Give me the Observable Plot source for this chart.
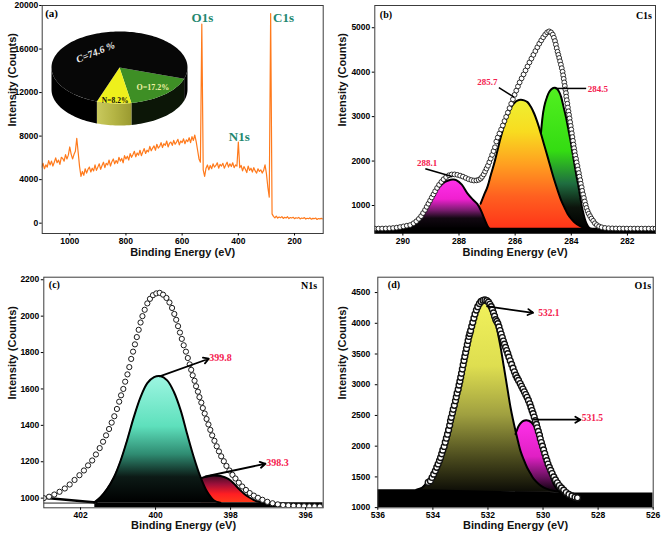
<!DOCTYPE html>
<html><head><meta charset="utf-8">
<script src="https://cdn.jsdelivr.net/npm/d3@7"></script>
<script src="https://cdn.jsdelivr.net/npm/@observablehq/plot@0.6"></script>
<style>
body{margin:0;background:#fff;}
#root{position:relative;width:661px;height:538px;overflow:hidden;background:#fff}
.pnl{position:absolute}
</style></head><body><div id="root"></div>
<script>
// ---------------- DATA ----------------
// (a) survey spectrum: counts every 5 eV from 1100 eV down to 100 eV
const surveyStartEV = 1100, surveyStepEV = 5;
const surveyCounts = [
5150,5500,5000,5350,5150,5750,5350,5700,5250,5600,6000,5550,5800,5400,6050,5950,5700,6300,5900,6250,
7000,6350,5900,6300,6600,7800,6500,5200,4300,4750,4400,5000,4600,4950,5150,4700,5050,4800,5350,4850,
5150,5450,4950,5300,5600,5100,5500,5350,5800,5250,5650,5900,5450,5750,5500,6050,5700,5950,5550,6200,
5900,6150,5800,6400,6050,6300,6600,6100,6450,6250,6700,6200,6550,6850,6400,6700,6550,7050,6650,6900,
7100,6700,7250,6900,7050,7400,6950,7300,7150,7550,7000,7350,7450,7150,7600,7250,7450,7700,7200,7550,
7400,7750,7300,7650,7500,7850,7400,7950,7600,8100,7500,6700,5900,5600,18300,4900,4300,5050,5350,4900,
5300,5000,5450,5150,5300,5550,5050,5400,5250,5500,5050,5350,5600,5150,5450,5200,5550,5100,5350,5250,
7450,5100,5300,4800,5200,4950,4650,5250,4850,5050,4700,5100,4800,4600,5000,4750,4900,4600,4850,5350,
4550,3300,2400,19250,850,620,480,640,460,570,500,600,430,540,480,590,420,520,470,540,
410,500,450,530,390,470,430,510,380,450,410,490,360,440,410,470,340,430,390,440,400];
const surveyPeakNames = ["O1s", "N1s", "C1s"];
const surveyPeakEV = [528, 396.6, 239];
const surveyPeakCounts = [18900, 7970, 18900];

// (a) inset: elemental composition (%)
const pieNames = ["O", "N", "C"];
const piePercents = [17.2, 8.2, 74.6];
const pieTexts = ["O=17.2%", "N=8.2%", "C=74.6 %"];

// (b) C1s: envelope (eV, counts) and fitted components
const c1sEnvelope = [[291.00,480],[290.87,480],[290.74,481],[290.61,483],[290.48,487],[290.35,493],[290.22,502],[290.10,515],[289.98,530],[289.86,545],[289.74,560],[289.62,600],[289.52,645],[289.43,700],[289.35,760],[289.28,830],[289.21,900],[289.15,970],[289.09,1040],[289.03,1110],[288.97,1180],[288.91,1250],[288.85,1320],[288.78,1395],[288.71,1465],[288.63,1530],[288.55,1590],[288.46,1640],[288.36,1680],[288.26,1698],[288.16,1700],[288.06,1690],[287.96,1672],[287.86,1650],[287.76,1620],[287.66,1592],[287.56,1572],[287.47,1562],[287.38,1565],[287.30,1578],[287.23,1605],[287.18,1645],[287.12,1700],[287.07,1765],[287.02,1830],[286.97,1895],[286.92,1975],[286.87,2055],[286.82,2140],[286.77,2225],[286.72,2310],[286.67,2440],[286.62,2530],[286.56,2620],[286.50,2710],[286.44,2800],[286.38,2900],[286.32,2995],[286.26,3090],[286.20,3190],[286.14,3290],[286.08,3390],[286.02,3490],[285.96,3585],[285.90,3680],[285.84,3770],[285.77,3860],[285.70,3950],[285.63,4040],[285.56,4130],[285.49,4220],[285.42,4305],[285.35,4390],[285.28,4475],[285.21,4560],[285.14,4640],[285.07,4715],[285.00,4785],[284.93,4845],[284.86,4895],[284.79,4918],[284.72,4895],[284.66,4845],[284.62,4775],[284.58,4700],[284.55,4620],[284.52,4540],[284.49,4460],[284.46,4390],[284.43,4320],[284.40,4245],[284.37,4170],[284.34,4090],[284.31,4010],[284.29,3930],[284.27,3850],[284.25,3770],[284.23,3690],[284.21,3610],[284.19,3530],[284.18,3450],[284.16,3370],[284.14,3290],[284.12,3205],[284.10,3120],[284.08,3040],[284.06,2960],[284.04,2875],[284.02,2790],[284.00,2710],[283.98,2625],[283.96,2540],[283.94,2455],[283.92,2370],[283.90,2290],[283.88,2210],[283.86,2130],[283.83,2050],[283.81,1970],[283.78,1890],[283.76,1810],[283.73,1730],[283.71,1650],[283.68,1570],[283.66,1490],[283.63,1410],[283.61,1330],[283.58,1250],[283.55,1170],[283.52,1090],[283.49,1015],[283.46,945],[283.42,875],[283.38,815],[283.33,760],[283.28,705],[283.22,655],[283.16,600],[283.09,560],[283.01,530],[282.92,510],[282.80,495],[282.67,488],[282.54,485],[282.41,483],[282.28,482],[282.15,481],[282.02,480],[281.89,480],[281.76,480],[281.63,480],[281.50,480],[281.37,480],[281.24,480],[281.11,480],[281.00,480]];
const c1sPeak2881 = [[290.5,455],[290.2,470],[289.9,510],[289.7,575],[289.5,680],[289.3,840],[289.1,1040],[288.9,1250],[288.7,1420],[288.5,1530],[288.3,1580],[288.2,1585],[288.1,1572],[287.9,1470],[287.7,1275],[287.5,1130],[287.35,1035],[287.22,890],[287.12,740],[287.03,600],[286.93,490],[286.85,470]];
const c1sPeak2857 = [[287.7,490],[287.5,640],[287.35,860],[287.23,1040],[287.1,1250],[286.99,1413],[286.87,1680],[286.75,1938],[286.63,2240],[286.51,2539],[286.39,2800],[286.27,3026],[286.15,3200],[286.03,3304],[285.92,3360],[285.8,3379],[285.68,3365],[285.56,3326],[285.44,3220],[285.32,3064],[285.2,2860],[285.08,2614],[284.96,2350],[284.84,2088],[284.72,1820],[284.6,1563],[284.48,1330],[284.36,1113],[284.24,950],[284.13,812],[284.0,700],[283.89,625],[283.7,540],[283.53,490],[283.4,470]];
const c1sPeak2845 = [[285.08,2640],[285.04,2900],[285.0,3100],[284.94,3290],[284.87,3430],[284.8,3540],[284.72,3610],[284.64,3645],[284.58,3650],[284.5,3620],[284.42,3540],[284.36,3439],[284.28,3230],[284.19,2989],[284.11,2730],[284.03,2464],[283.96,2200],[283.89,1938],[283.82,1680],[283.74,1413],[283.68,1180],[283.62,962],[283.56,800],[283.5,662],[283.43,560],[283.35,490],[283.25,470]];
const c1sPeakLabels = ["288.1", "285.7", "284.5"];

// (c) N1s
const n1sEnvelope = [[402.98,1000],[402.84,1008],[402.70,1020],[402.56,1035],[402.42,1053],[402.29,1075],[402.16,1100],[402.03,1126],[401.91,1152],[401.80,1180],[401.69,1207],[401.59,1240],[401.49,1275],[401.40,1310],[401.32,1345],[401.24,1380],[401.17,1415],[401.10,1450],[401.03,1490],[400.97,1530],[400.92,1565],[400.86,1600],[400.81,1640],[400.75,1680],[400.70,1720],[400.65,1765],[400.60,1805],[400.55,1845],[400.50,1885],[400.45,1925],[400.40,1965],[400.35,2000],[400.29,2035],[400.22,2070],[400.15,2095],[400.07,2115],[399.98,2125],[399.89,2128],[399.80,2118],[399.71,2100],[399.63,2075],[399.56,2045],[399.50,2012],[399.45,1980],[399.40,1945],[399.35,1910],[399.30,1875],[399.25,1840],[399.19,1805],[399.14,1770],[399.09,1735],[399.05,1705],[399.01,1675],[398.96,1645],[398.92,1615],[398.87,1585],[398.83,1555],[398.78,1525],[398.74,1495],[398.69,1465],[398.64,1435],[398.59,1405],[398.54,1375],[398.49,1345],[398.43,1315],[398.37,1285],[398.31,1257],[398.25,1230],[398.18,1203],[398.11,1177],[398.03,1152],[397.95,1128],[397.87,1108],[397.78,1085],[397.69,1064],[397.59,1045],[397.49,1028],[397.38,1014],[397.27,1002],[397.15,991],[397.02,980],[396.88,972],[396.74,966],[396.60,962],[396.46,960],[396.32,958],[396.18,957],[396.04,956],[395.90,955],[395.76,955],[395.62,954]];
const n1sPeak3998 = [[401.64,976],[401.47,1005],[401.29,1051],[401.11,1115],[400.93,1207],[400.76,1317],[400.58,1445],[400.4,1555],[400.22,1632],[400.04,1665],[399.88,1671],[399.69,1647],[399.51,1583],[399.33,1482],[399.16,1354],[398.98,1225],[398.8,1115],[398.62,1033],[398.44,987],[398.27,975]];
const n1sPeak3983 = [[398.78,1110],[398.67,1117],[398.55,1122],[398.44,1125],[398.33,1123],[398.22,1119],[398.1,1110],[398.0,1097],[397.91,1080],[397.82,1060],[397.73,1042],[397.64,1024],[397.51,1005],[397.38,990],[397.25,980],[397.11,975]];
const n1sPeakLabels = ["399.8", "398.3"];

// (d) O1s
const o1sEnvelope = [[534.17,1410],[534.09,1435],[534.03,1490],[533.97,1545],[533.91,1598],[533.86,1655],[533.81,1710],[533.76,1765],[533.72,1815],[533.68,1875],[533.64,1935],[533.59,1995],[533.55,2065],[533.51,2130],[533.47,2195],[533.43,2265],[533.39,2340],[533.36,2413],[533.33,2470],[533.29,2540],[533.26,2600],[533.22,2665],[533.18,2739],[533.15,2800],[533.12,2865],[533.08,2925],[533.05,2995],[533.02,3055],[532.99,3120],[532.96,3185],[532.93,3255],[532.90,3325],[532.87,3395],[532.84,3460],[532.81,3525],[532.78,3590],[532.75,3655],[532.72,3720],[532.69,3785],[532.66,3835],[532.63,3880],[532.59,3950],[532.55,4015],[532.51,4085],[532.47,4150],[532.42,4215],[532.37,4270],[532.31,4320],[532.25,4355],[532.18,4375],[532.11,4380],[532.04,4368],[531.98,4345],[531.93,4310],[531.88,4270],[531.84,4225],[531.80,4170],[531.76,4115],[531.72,4060],[531.68,4030],[531.64,3995],[531.60,3940],[531.56,3882],[531.52,3825],[531.48,3768],[531.44,3712],[531.40,3660],[531.36,3608],[531.32,3556],[531.28,3505],[531.24,3450],[531.19,3390],[531.14,3330],[531.09,3270],[531.04,3210],[530.99,3155],[530.94,3110],[530.89,3070],[530.83,3020],[530.78,2975],[530.73,2930],[530.68,2885],[530.63,2840],[530.58,2795],[530.53,2745],[530.48,2690],[530.44,2635],[530.40,2580],[530.36,2530],[530.32,2475],[530.28,2415],[530.24,2355],[530.21,2300],[530.17,2240],[530.13,2180],[530.10,2120],[530.06,2060],[530.02,2000],[529.98,1940],[529.94,1880],[529.90,1820],[529.86,1765],[529.82,1710],[529.77,1655],[529.72,1605],[529.67,1555],[529.61,1500],[529.55,1450],[529.48,1405],[529.41,1360],[529.33,1320],[529.25,1285],[529.16,1245],[529.06,1215],[528.95,1190],[528.84,1170],[528.75,1160]];
const o1sPeak5321 = [[534.6,1290],[534.4,1320],[534.27,1380],[534.09,1489],[533.85,1707],[533.6,2033],[533.36,2467],[533.12,2957],[532.88,3446],[532.63,3908],[532.39,4261],[532.27,4360],[532.15,4397],[532.03,4370],[531.91,4315],[531.82,4200],[531.73,4044],[531.64,3840],[531.54,3609],[531.45,3365],[531.36,3120],[531.27,2870],[531.18,2630],[531.09,2430],[531.0,2250],[530.91,2080],[530.82,1924],[530.7,1780],[530.58,1652],[530.45,1550],[530.33,1462],[530.15,1380],[529.97,1326],[529.73,1285],[529.49,1261],[529.2,1250]];
const o1sPeak5315 = [[531.0,2196],[530.94,2270],[530.88,2332],[530.79,2385],[530.7,2413],[530.61,2420],[530.52,2413],[530.42,2385],[530.33,2332],[530.24,2250],[530.15,2141],[530.06,2010],[529.97,1870],[529.88,1730],[529.79,1598],[529.7,1480],[529.61,1380],[529.49,1300],[529.37,1245],[529.2,1230]];
const o1sPeakLabels = ["532.1", "531.5"];

// ---------------- LAYOUT / STYLE ----------------
const SANS = "'Liberation Sans', Arial, Helvetica, sans-serif";
const SERIF = "'Liberation Serif', 'Times New Roman', serif";
const RED = "#f4214f";
const root = document.getElementById("root");
const P = a => a.map(([e, i]) => ({e, i}));
const base = v => () => v;

function addGradients(svg, grads) {
  const defs = d3.select(svg).insert("defs", ":first-child");
  for (const g of grads) {
    const lg = defs.append("linearGradient").attr("id", g.id)
      .attr("x1", 0).attr("y1", 0).attr("x2", g.horizontal ? 1 : 0).attr("y2", g.horizontal ? 0 : 1);
    for (const [o, c] of g.stops) lg.append("stop").attr("offset", o).attr("stop-color", c);
  }
}

function makePanel(cfg) {
  const marks = [
    ...cfg.marks,
    Plot.frame({stroke: "#3c3c3c", strokeWidth: 1}),
    Plot.axisX({ticks: cfg.xt, tickFormat: "d", tickSize: 2.5, tickPadding: 1.5, label: null}),
    Plot.axisY({ticks: cfg.yt, tickFormat: "d", tickSize: 2.5, tickPadding: cfg.yp, label: null}),
    Plot.text(["Binding Energy (eV)"], {text: d => d, frameAnchor: "bottom", dy: cfg.xl, fontSize: 11, fontWeight: "bold", fontFamily: SANS, fill: "#111"}),
    Plot.text(["Intensity (Counts)"], {text: d => d, frameAnchor: "left", dx: cfg.yl, dy: 7, rotate: -90, fontSize: 11, fontWeight: "bold", fontFamily: SANS, fill: "#111"}),
    Plot.text([cfg.tag], {text: d => d, frameAnchor: "top-left", dx: cfg.tagDx, dy: cfg.tagDy, textAnchor: "start", lineAnchor: "top", fontFamily: SERIF, fontWeight: "bold", fontSize: cfg.tagSize})
  ];
  if (cfg.corner) marks.push(Plot.text([cfg.corner], {text: d => d, frameAnchor: "top-right", dx: cfg.cornerDx, dy: cfg.tagDy + 1, textAnchor: "end", lineAnchor: "top", fontFamily: SERIF, fontWeight: "bold", fontSize: 10}));
  const svg = Plot.plot({
    width: cfg.w, height: cfg.h,
    marginLeft: cfg.ml, marginRight: cfg.mr, marginTop: cfg.mt, marginBottom: cfg.mb,
    x: {domain: cfg.xd}, y: {domain: cfg.yd},
    style: {fontFamily: SANS, fontSize: "8.5px", fontWeight: "bold", color: "#000", background: "transparent", overflow: "visible"},
    marks
  });
  if (cfg.grads) addGradients(svg, cfg.grads);
  const div = document.createElement("div");
  div.className = "pnl";
  Object.assign(div.style, {left: cfg.left + "px", top: cfg.top + "px", width: cfg.w + "px", height: cfg.h + "px"});
  div.appendChild(svg);
  root.appendChild(div);
}

const peakArea = (data, b, fill) => Plot.areaY(P(data), {x: "e", y1: base(b), y2: "i", fill, curve: "catmull-rom", clip: true});
const peakLine = (data, w) => Plot.line(P(data), {x: "e", y: "i", stroke: "#000", strokeWidth: w, curve: "catmull-rom", clip: true});
const band = (data, b) => Plot.areaY(P(data), {x: "e", y1: base(b), y2: "i", fill: "#000", clip: true});

// ---------------- (a) survey ----------------
const survey = surveyCounts.map((c, k) => ({e: surveyStartEV - k * surveyStepEV, i: c}));
makePanel({
  left: 0, top: 0, w: 330, h: 270, ml: 41.7, mr: 7.3, mt: 5, mb: 37,
  xd: [1098, 98], yd: [-950, 20000],
  xt: [1000, 800, 600, 400, 200], yt: [0, 4000, 8000, 12000, 16000, 20000], yp: 1.5,
  xl: 22, yl: -30, tag: "(a)", tagDx: 3, tagDy: 4, tagSize: 11,
  marks: [
    Plot.line(survey, {x: "e", y: "i", stroke: "#ff7a1c", strokeWidth: 1.2, clip: true}),
    Plot.text(surveyPeakNames.map((t, k) => ({t, e: surveyPeakEV[k], i: surveyPeakCounts[k]})),
      {x: "e", y: "i", text: "t", fill: "#23876f", fontFamily: SERIF, fontWeight: "bold", fontSize: 13})
  ]
});

// (a) inset 3-D pie
(function () {
  const W = 150, H = 108, cx = 74, cy = 42, rx = 68, ry = 36, depth = 22, startDeg = 18;
  const labelAt = [[49, 0.75], [94, 0.92], [230, 0.55]];
  const topFill = ["#3e8f25", "#eef01c", "#070707"];
  const sideFill = ["#0c1607", "url(#pieNside)", "#000"];
  const labelFill = ["#f2f2a6", "#111", "#f0f0f0"];
  const labelSize = [8, 7.5, 10];
  const labelRot = [0, 0, -22];
  const rad = d => d * Math.PI / 180;
  const pt = (t, dy) => ({x: cx + rx * Math.cos(rad(t)), y: cy + ry * Math.sin(rad(t)) + dy});
  const arc = (a0, a1, dy) => { const n = Math.max(2, Math.ceil(Math.abs(a1 - a0) / 2)); return d3.range(n + 1).map(j => pt(a0 + (a1 - a0) * j / n, dy)); };
  const total = d3.sum(piePercents);
  let a = startDeg;
  const slices = piePercents.map((p, k) => { const s = {k, a0: a, a1: a + p / total * 360}; a = s.a1; return s; });
  const sideMarks = [], topMarks = [];
  for (const s of slices) {
    for (const r of [-1, 0, 1]) {
      const lo = Math.max(s.a0, 360 * r), hi = Math.min(s.a1, 360 * r + 180);
      if (hi > lo) sideMarks.push(Plot.line([...arc(lo, hi, 0), ...arc(hi, lo, depth)], {x: "x", y: "y", fill: sideFill[s.k], stroke: "none"}));
    }
    topMarks.push(Plot.line([{x: cx, y: cy}, ...arc(s.a0, s.a1, 0)], {x: "x", y: "y", fill: topFill[s.k], stroke: "none"}));
  }
  const labels = slices.map(s => { const [t, f] = labelAt[s.k]; return {t: pieTexts[s.k], x: cx + f * rx * Math.cos(rad(t)), y: cy + f * ry * Math.sin(rad(t)), k: s.k}; });
  const labelMarks = labels.map(l => Plot.text([l], {x: "x", y: "y", text: "t", fill: labelFill[l.k], fontSize: labelSize[l.k], rotate: labelRot[l.k], fontFamily: SERIF, fontWeight: "bold", fontStyle: l.k === 2 ? "italic" : "normal"}));
  const svg = Plot.plot({
    width: W, height: H, margin: 0,
    x: {domain: [0, W], range: [0, W], axis: null},
    y: {domain: [0, H], range: [0, H], axis: null},
    style: {background: "transparent", overflow: "visible"},
    marks: [...sideMarks, ...topMarks, ...labelMarks]
  });
  addGradients(svg, [{id: "pieNside", horizontal: true, stops: [[0, "#c9c95e"], [0.5, "#b4b444"], [1, "#9a9a30"]]}]);
  const div = document.createElement("div");
  div.className = "pnl";
  Object.assign(div.style, {left: "45px", top: "25px", width: W + "px", height: H + "px"});
  div.appendChild(svg);
  root.appendChild(div);
})();

// ---------------- (b) C1s ----------------
makePanel({
  left: 330, top: 0, w: 331, h: 270, ml: 44.3, mr: 6, mt: 5, mb: 37,
  xd: [291, 281], yd: [370, 5500],
  xt: [290, 288, 286, 284, 282], yt: [1000, 2000, 3000, 4000, 5000], yp: 2,
  xl: 22, yl: -32.6, tag: "(b)", tagDx: 5, tagDy: 5, tagSize: 10, corner: "C1s", cornerDx: -3.5,
  grads: [
    {id: "gB1", stops: [[0, "#ff30ea"], [0.4, "#f020d0"], [0.62, "#7a1c70"], [0.78, "#120812"], [1, "#000"]]},
    {id: "gB2", stops: [[0, "#eef032"], [0.25, "#f8dc20"], [0.5, "#ffa020"], [0.75, "#ff6020"], [1, "#ff3418"]]},
    {id: "gB3", stops: [[0, "#52f020"], [0.45, "#34dc12"], [0.68, "#1f6e40"], [0.85, "#0c140c"], [1, "#000"]]}
  ],
  marks: [
    peakArea(c1sPeak2845, 470, "url(#gB3)"),
    peakArea(c1sPeak2857, 470, "url(#gB2)"),
    peakArea(c1sPeak2881, 470, "url(#gB1)"),
    band([[291, 487], [281, 487]], 370),
    peakLine(c1sPeak2881, 2), peakLine(c1sPeak2845, 2), peakLine(c1sPeak2857.filter(d => d[0] <= 287.24), 2),
    Plot.dot(P(c1sEnvelope), {x: "e", y: "i", r: 2.4, fill: "#fff", stroke: "#1a1a1a", strokeWidth: 0.9, clip: true}),
    Plot.link([[289.2, 1826, 288.25, 1653], [286.58, 3650, 286.04, 3438], [284.58, 3634, 283.47, 3634]],
      {x1: d => d[0], y1: d => d[1], x2: d => d[2], y2: d => d[3], stroke: "#000", strokeWidth: 1.5}),
    Plot.text(c1sPeakLabels.map((t, k) => ({t, p: [[289.14, 1945], [286.99, 3769], [283.05, 3612]][k]})),
      {x: d => d.p[0], y: d => d.p[1], text: "t", fill: RED, fontFamily: SERIF, fontWeight: "bold", fontSize: 9})
  ]
});

// ---------------- (c) N1s ----------------
makePanel({
  left: 0, top: 270, w: 330, h: 268, ml: 43.3, mr: 7.3, mt: 6.7, mb: 30.7,
  xd: [402.98, 395.53], yd: [947, 2214],
  xt: [402, 400, 398, 396], yt: [1000, 1200, 1400, 1600, 1800, 2000, 2200], yp: 2,
  xl: 21, yl: -31.5, tag: "(c)", tagDx: 5, tagDy: 4, tagSize: 10, corner: "N1s", cornerDx: -6,
  grads: [
    {id: "gC1", stops: [[0, "#9ef6e2"], [0.4, "#5ee0bc"], [0.62, "#2f8c72"], [0.8, "#0c1a16"], [1, "#000"]]},
    {id: "gC2", stops: [[0, "#3a0c24"], [0.35, "#a0103a"], [0.7, "#ff1e22"], [1, "#ff3a1a"]]}
  ],
  marks: [
    peakArea(n1sPeak3983, 975, "url(#gC2)"),
    peakArea(n1sPeak3998, 975, "url(#gC1)"),
    band([[401.62, 975], [395.53, 975]], 947),
    Plot.line(P([[402.98, 1002], [401.58, 976]]), {x: "e", y: "i", stroke: "#000", strokeWidth: 2.6, clip: true}),
    Plot.line(P([[402.98, 973], [401.6, 973]]), {x: "e", y: "i", stroke: "#222", strokeWidth: 1, clip: true}),
    peakLine(n1sPeak3998, 2), peakLine(n1sPeak3983, 2),
    Plot.dot(P(n1sEnvelope), {x: "e", y: "i", r: 2.6, fill: "#fff", stroke: "#1a1a1a", strokeWidth: 1, clip: true}),
    Plot.arrow([[399.89, 1669, 398.58, 1766], [398.67, 1119, 397.07, 1189]],
      {x1: d => d[0], y1: d => d[1], x2: d => d[2], y2: d => d[3], stroke: "#000", strokeWidth: 1.8, headLength: 5}),
    Plot.text(n1sPeakLabels.map((t, k) => ({t, p: [[398.27, 1771], [396.75, 1192]][k]})),
      {x: d => d.p[0], y: d => d.p[1], text: "t", fill: RED, fontFamily: SERIF, fontWeight: "bold", fontSize: 10})
  ]
});

// ---------------- (d) O1s ----------------
makePanel({
  left: 330, top: 270, w: 331, h: 268, ml: 47.3, mr: 8.3, mt: 6.7, mb: 30.7,
  xd: [536, 526], yd: [997, 4750],
  xt: [536, 534, 532, 530, 528, 526], yt: [1000, 1500, 2000, 2500, 3000, 3500, 4000, 4500], yp: 5,
  xl: 21, yl: -35.6, tag: "(d)", tagDx: 10, tagDy: 4, tagSize: 10, corner: "O1s", cornerDx: -2,
  grads: [
    {id: "gD1", stops: [[0, "#f2f25c"], [0.35, "#dede50"], [0.6, "#a0a040"], [0.82, "#4c4c1e"], [1, "#0c0c06"]]},
    {id: "gD2", stops: [[0, "#ff30ea"], [0.5, "#e020c4"], [0.78, "#6a1060"], [1, "#000"]]}
  ],
  marks: [
    peakArea(o1sPeak5315, 1250, "url(#gD2)"),
    peakArea(o1sPeak5321, 1250, "url(#gD1)"),
    band([[536, 1290], [534.3, 1290], [528.8, 1236], [526, 1236]], 997),
    peakLine(o1sPeak5321, 2), peakLine(o1sPeak5315, 2),
    Plot.dot(P(o1sEnvelope), {x: "e", y: "i", r: 2.9, fill: "#fff", stroke: "#111", strokeWidth: 1.4, clip: true}),
    Plot.arrow([[532.03, 4274, 530.36, 4171], [530.33, 2431, 528.64, 2431]],
      {x1: d => d[0], y1: d => d[1], x2: d => d[2], y2: d => d[3], stroke: "#000", strokeWidth: 1.8, headLength: 5}),
    Plot.text(o1sPeakLabels.map((t, k) => ({t, p: [[529.79, 4165], [528.21, 2452]][k]})),
      {x: d => d.p[0], y: d => d.p[1], text: "t", fill: RED, fontFamily: SERIF, fontWeight: "bold", fontSize: 9.5})
  ]
});
</script>
</body></html>
